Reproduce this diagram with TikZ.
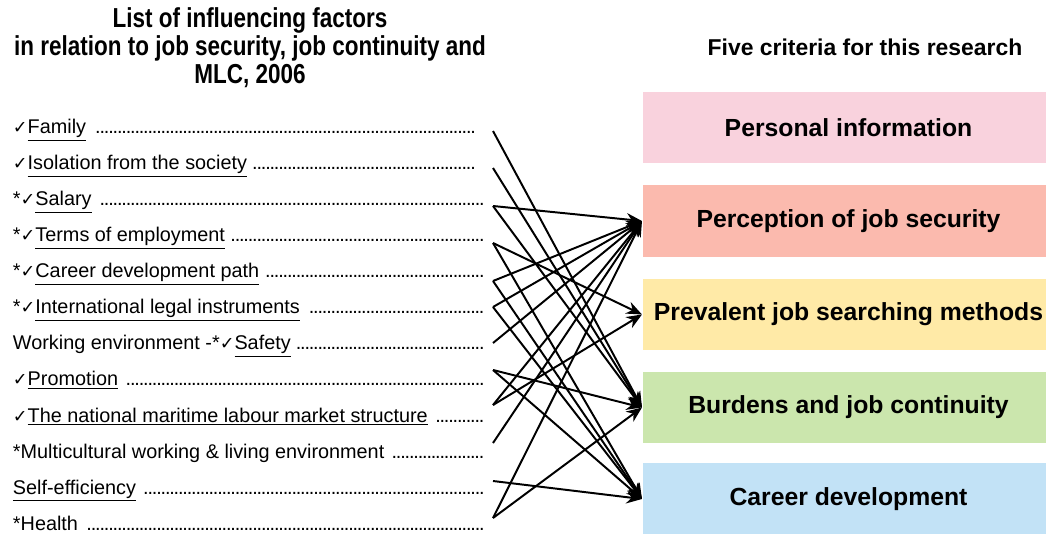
\documentclass[tikz,border=0pt]{standalone}
\usepackage{fontspec}
\setmainfont{Liberation Sans}
\newfontfamily\chkfont{DejaVu Sans}
\newfontfamily\headfont{Liberation Sans}[FakeStretch=0.82]
\usetikzlibrary{arrows.meta,positioning,calc}

\definecolor{pinkbox}{HTML}{F9D2DD}
\definecolor{salmonbox}{HTML}{FBBAAE}
\definecolor{yellowbox}{HTML}{FFEAA7}
\definecolor{greenbox}{HTML}{CBE6AD}
\definecolor{bluebox}{HTML}{C2E2F6}

\newcommand{\chk}{{\chkfont\fontsize{12.5}{13}\selectfont ✓}}
\newcommand{\lead}{\leaders\hbox to 3.1pt{\hss.\hss}\hfill}
\newcommand{\factor}[2][337pt]{\makebox[#1][l]{#2 \lead}}

\begin{document}
\begin{tikzpicture}[->,>={Stealth[length=11pt,width=9pt]},x=0.025cm,y=-0.025cm,
		line width=1.4pt]
		\tikzstyle{crit}=[draw=none,minimum width=10.075cm,minimum height=1.775cm,inner sep=0pt,
			font=\fontsize{17.6}{20}\selectfont\bfseries,execute at begin node=\hspace*{0.2cm}]
		\tikzstyle{factor}=[inner sep=0pt,text height=10pt,text depth=3pt,
			font=\fontsize{14.1}{16}\selectfont]
		\useasboundingbox (0,0) rectangle (1046,533);
		
		% headings
		\node[align=center,font=\headfont\bfseries\fontsize{19.5}{19.9}\selectfont] (lefthead) at (250,48)
		{List of influencing factors\\in relation to job security, job continuity and\\MLC, 2006};
		\node[font=\bfseries\fontsize{16.3}{18}\selectfont] (righthead) at (865,47) {Five criteria for this research};
		
		% five criteria
		\node[crit,fill=pinkbox]   (c1) at (844.5,127.5) {Personal information};
		\node[crit,fill=salmonbox] (c2) at (844.5,221)   {Perception of job security};
		\node[crit,fill=yellowbox] (c3) at (844.5,314.5) {Prevalent job searching methods};
		\node[crit,fill=greenbox]  (c4) at (844.5,407.5) {Burdens and job continuity};
		\node[crit,fill=bluebox]   (c5) at (844.5,499)   {Career development};
		
		% influencing factors
		\node[factor,anchor=west] (f1) at (12,129) {\factor[330pt]{\chk\underline{Family}}};
		\node[factor,below=0.9cm of f1.west,anchor=west] (f2) {\factor[331pt]{\chk\underline{Isolation from the society}}};
		\node[factor,below=0.9cm of f2.west,anchor=west] (f3) {\factor{*\chk\underline{Salary}}};
		\node[factor,below=0.9cm of f3.west,anchor=west] (f4) {\factor{*\chk\underline{Terms of employment}}};
		\node[factor,below=0.9cm of f4.west,anchor=west] (f5) {\factor{*\chk\underline{Career development path}}};
		\node[factor,below=0.9cm of f5.west,anchor=west] (f6) {\factor{*\chk\underline{International legal instruments}}};
		\node[factor,below=0.9cm of f6.west,anchor=west] (f7) {\factor{Working environment -*\chk\underline{Safety}}};
		\node[factor,below=0.9cm of f7.west,anchor=west] (f8) {\factor{\chk\underline{Promotion}}};
		\node[factor,below=0.9cm of f8.west,anchor=west] (f9) {\factor{\chk\underline{The national maritime labour market structure}}};
		\node[factor,below=0.9cm of f9.west,anchor=west] (f10) {\factor{*Multicultural working \& living environment}};
		\node[factor,below=0.9cm of f10.west,anchor=west] (f11) {\factor{\underline{Self-efficiency}}};
		\node[factor,below=0.9cm of f11.west,anchor=west] (f12) {\factor{*Health}};
		
		% line starts
		\foreach \i/\y in {1/131,2/168,3/206,4/243,5/281,6/307,7/343,8/370,9/405,10/443,11/481,12/518}
		\coordinate (s\i) at (493,\y);
		
		% links
		\foreach \s/\t in {1/4,2/4,3/2,3/4,4/3,4/5,5/2,5/5,6/2,6/5,7/2,8/4,8/5,9/2,9/3,10/2,11/5,12/2,12/4}
		\draw (s\s) -- (c\t.west);
		
\end{tikzpicture}
\end{document}
